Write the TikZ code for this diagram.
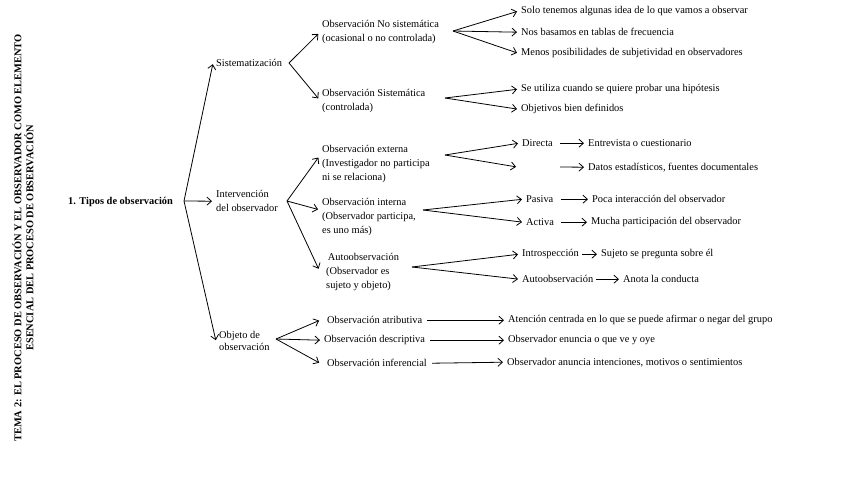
\documentclass[tikz,border=0pt]{standalone}
\usepackage{fontspec}
\setmainfont{Liberation Serif}
\usetikzlibrary{arrows.meta,calc}
\begin{document}
\begin{tikzpicture}[x=1pt,y=-1pt,
  txt/.style={anchor=west,inner sep=3pt,yshift=-1.2pt,font=\fontsize{10.4}{14}\selectfont,align=left},
  arr/.style={line width=0.8pt,shorten >=1pt,-{Straight Barb[length=4.5pt,width=8pt]}}]
\useasboundingbox (0,0) rectangle (848,477);

% title
\node[rotate=90,font=\bfseries\fontsize{10.4}{12}\selectfont,align=center,inner sep=0pt] (title) at (23,238)
  {TEMA 2: EL PROCESO DE OBSERVACIÓN Y EL OBSERVADOR COMO ELEMENTO\\ESENCIAL DEL PROCESO DE OBSERVACIÓN};

% root
\node[txt,font=\bfseries\fontsize{10.4}{12}\selectfont] (root) at (65,201) {1. Tipos de observación};
\coordinate (f0) at (184,201);

% level 1
\node[txt] (sis) at (213,62) {Sistematización};
\node[txt] (int) at (213,200) {Intervención\\del observador};
\node[txt,font=\fontsize{10.4}{12}\selectfont] (obj) at (216,340) {Objeto de\\observación};
\draw[arr] (f0) -- (sis.west);
\draw[arr] (f0) -- (int.west);
\draw[arr] (f0) -- (obj.west);

% Sistematizacion
\coordinate (f1) at (289,63);
\node[txt] (n1) at (319,31) {Observación No sistemática\\(ocasional o no controlada)};
\node[txt] (n2) at (319,99.5) {Observación Sistemática\\(controlada)};
\draw[arr] (f1) -- ($(n1.west)+(0,1)$);
\draw[arr] (f1) -- ($(n2.west)+(0,-1.5)$);

\coordinate (g1) at (453,31);
\node[txt] (n1a) at (518,10) {Solo tenemos algunas idea de lo que vamos a observar};
\node[txt] (n1b) at (518,31) {Nos basamos en tablas de frecuencia};
\node[txt] (n1c) at (518,52) {Menos posibilidades de subjetividad en observadores};
\draw[arr] (g1) -- (n1a.west);
\draw[arr] (g1) -- (n1b.west);
\draw[arr] (g1) -- (n1c.west);

\coordinate (g2) at (445,98);
\node[txt] (n2a) at (518,88) {Se utiliza cuando se quiere probar una hipótesis};
\node[txt] (n2b) at (518,108) {Objetivos bien definidos};
\draw[arr] (g2) -- (n2a.west);
\draw[arr] (g2) -- (n2b.west);

% Intervencion
\coordinate (f2) at (287,201);
\node[txt] (ext) at (319,162.5) {Observación externa\\(Investigador no participa\\ni se relaciona)};
\node[txt] (inn) at (319,215.5) {Observación interna\\(Observador participa,\\es uno más)};
\node[txt] (aut) at (323,270.5) {\,Autoobservación\\(Observador es\\sujeto y objeto)};
\draw[arr] (f2) -- ($(ext.west)+(0,-7)$);
\draw[arr] (f2) -- ($(inn.west)+(0,-7)$);
\draw[arr] (f2) -- ($(aut.west)+(-4,-2)$);

\coordinate (g3) at (445,155);
\coordinate (blank) at (517,167);
\coordinate (gap) at (560,167);
\node[txt] (dir) at (519,142) {Directa};
\node[txt] (ent) at (585,142) {Entrevista o cuestionario};
\node[txt] (dat) at (585,166) {Datos estadísticos, fuentes documentales};
\draw[arr] (g3) -- (dir.west);
\draw[arr] (g3) -- (blank);
\draw[arr] ($(dir.east)+(4,0)$) -- (ent.west);
\draw[arr] (gap) -- (dat.west);

\coordinate (g4) at (423,210);
\node[txt] (pas) at (523,198) {Pasiva};
\node[txt] (poc) at (589,198) {Poca interacción del observador};
\node[txt] (act) at (523,221) {Activa};
\node[txt] (muc) at (588,221) {Mucha participación del observador};
\draw[arr] (g4) -- (pas.west);
\draw[arr] (g4) -- (act.west);
\draw[arr] ($(pas.east)+(4,0)$) -- (poc.west);
\draw[arr] ($(act.east)+(4,0)$) -- (muc.west);

\coordinate (g5) at (412,267);
\node[txt] (itr) at (519,253) {Introspección};
\node[txt] (suj) at (598,253) {Sujeto se pregunta sobre él};
\node[txt] (aob) at (519,278) {Autoobservación};
\node[txt] (ano) at (620,278) {Anota la conducta};
\draw[arr] (g5) -- (itr.west);
\draw[arr] (g5) -- (aob.west);
\draw[arr] (itr.east) -- (suj.west);
\draw[arr] (aob.east) -- (ano.west);

% Objeto
\coordinate (f3) at (276,339);
\node[txt] (atr) at (324,319) {Observación atributiva};
\node[txt] (des) at (321,339) {Observación descriptiva};
\node[txt] (inf) at (324,362) {Observación inferencial};
\draw[arr] (f3) -- ($(atr.west)+(-4,0)$);
\draw[arr] (f3) -- (des.west);
\draw[arr] (f3) -- ($(inf.west)+(-4,0)$);

\node[txt] (atrT) at (505,319) {Atención centrada en lo que se puede afirmar o negar del grupo};
\node[txt] (desT) at (505,339) {Observador enuncia o que ve y oye};
\node[txt] (infT) at (504,361) {Observador anuncia intenciones, motivos o sentimientos};
\draw[arr] ($(atr.east)+(2,0)$) -- (atrT.west);
\draw[arr] ($(des.east)+(2,0)$) -- (desT.west);
\draw[arr] ($(inf.east)+(2,0)$) -- (infT.west);
\end{tikzpicture}
\end{document}
